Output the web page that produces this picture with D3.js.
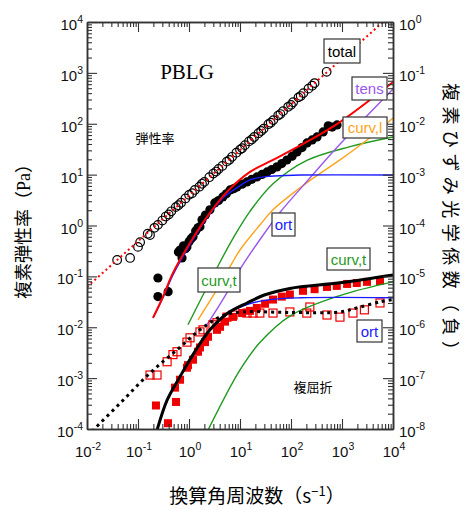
<!DOCTYPE html>
<html>
<head>
<meta charset="utf-8">
<script src="https://cdn.jsdelivr.net/npm/d3@7"></script>
<style>
body { margin: 0; background: #fff; }
</style>
</head>
<body>
<div id="chart"></div>
<script>
// ---- data (angular frequency s^-1, modulus Pa / strain-optical coeff) ----
const totalModulus = [
  [0.039,0.21],[0.07,0.23],[0.1,0.38],[0.11,0.47],[0.155,0.69],[0.172,0.65],[0.21,0.9],
  [0.246,1.03],[0.3,1.25],[0.35,1.5],[0.4,1.65],[0.45,1.9],[0.55,2.3],[0.62,2.5],[0.7,2.8],
  [0.85,3.4],[1.0,4.0],[1.15,4.3],[1.3,5.0],[1.6,5.8],[1.8,6.6],[2.0,7.2],[2.5,8.9],[3.0,10.5],
  [3.4,11.5],[3.8,12.9],[4.5,14.8],[5.5,18],[6.2,19.5],[7,22.4],[8.5,27],[10,31],[11,33],
  [12.5,38],[15,45],[17,49],[19,55],[23,65],[26,72],[29,80],[36,98],[40,105],[45,118],
  [56,145],[62,155],[70,177],[88,215],[100,235],[110,265],[140,330],[155,350],[175,400],
  [220,490],[260,560],[290,630],[500,1050]
];
const storageModulus = [
  [0.246,0.093],[0.246,0.04],[0.39,0.05],[0.62,0.30],[0.667,0.33],[0.73,0.23],[0.78,0.40],
  [0.85,0.35],[0.91,0.38],[1.0,0.48],[1.1,0.55],[1.2,0.6],[1.35,0.78],[1.5,0.9],[1.64,0.95],
  [1.8,1.29],[2.1,1.6],[2.57,2.03],[3.2,2.78],[3.8,3.1],[4.6,3.65],[5.4,4.2],[6.4,5.0],
  [7.5,5.3],[8.7,5.7],[11,6.5],[13.7,7.2],[17,8.1],[21.5,9.0],[27,10.1],[34,11.3],[42,12.6],
  [53,14.2],[66,16.5],[83,19.4],[105,23],[131,28],[165,34],[206,42],[260,48],[324,55],
  [427,69],[537,91],[640,86],[800,95]
];
const totalFit = [[0.01,0.062],[10000,15000]];
const storageFit = [
  [0.197,0.0153],[0.309,0.0398],[0.485,0.117],[1.197,0.57],[2.25,1.48],[5.56,4.57],
  [15.7,11.3],[44.4,19.5],[204,44],[912,108],[10000,660]
];
const ortUpper = [
  [0.197,0.0153],[0.309,0.038],[0.485,0.107],[1.197,0.525],[2.25,1.41],[4.64,3.47],
  [8.7,5.5],[15.7,7.9],[38.9,9.3],[151,9.8],[10000,9.8]
];
const curvTUpper = [
  [0.955,0.0112],[3.55,0.148],[7.3,0.56],[15.7,1.9],[44.4,6.6],[204,19],[1435,35.5],[10000,55]
];
const curvLUpper = [
  [1.5,0.014],[3.24,0.048],[6.37,0.155],[10,0.33],[24.5,1.02],[44.4,2.04],[204,6.9],
  [912,19.5],[3090,48],[10000,129]
];
const tensUpper = [
  [2.25,0.0112],[5.0,0.04],[10,0.138],[24.5,0.525],[60,1.78],[257,9.5],[794,34],[10000,480]
];
// birefringence (right axis)
const biref1 = [
  [0.225,2.9e-8],[0.387,1.3e-8],[0.556,3.4e-8],[0.531,6.5e-8],[0.667,9.3e-8],[0.912,1.6e-7],
  [0.955,1.8e-7],[1.197,2.3e-7],[1.5,3.3e-7],[1.64,4.0e-7],[2.06,5.1e-7],[2.36,6.5e-7],
  [3.54,8.9e-7],[4.06,1.02e-6],[5.08,1.29e-6],[7.3,1.6e-6],[11,1.9e-6],[15.7,2.1e-6],
  [21.4,2.4e-6],[31,2.9e-6],[44.4,3.5e-6],[66,4.0e-6],[95,4.4e-6],[172,5.2e-6],[290,5.6e-6],
  [508,6.2e-6],[790,6.5e-6],[1260,7.1e-6],[1950,7.4e-6],[3090,7.8e-6],[5560,8.1e-6]
];
const biref2 = [
  [0.172,1.15e-7],[0.236,1.15e-7],[0.372,2.1e-7],[0.485,2.9e-7],[0.582,3.3e-7],[0.912,5.1e-7],
  [1.047,6.2e-7],[1.64,8.1e-7],[1.88,8.9e-7],[2.95,1.12e-6],[3.54,1.23e-6],[5.56,1.58e-6],
  [7.3,1.74e-6],[13.7,1.9e-6],[18,1.9e-6],[24.5,1.9e-6],[44.4,1.9e-6],[95,2.0e-6],[204,1.9e-6],
  [234,2.5e-6],[508,1.74e-6],[912,1.58e-6],[1640,1.9e-6],[2750,2.2e-6],[5560,3.0e-6]
];
const birefFit1 = [
  [0.2,5e-9],[0.236,9.5e-9],[0.372,3.7e-8],[0.667,1.07e-7],[1.197,2.9e-7],[2.57,8.9e-7],
  [5.56,1.85e-6],[13.7,3.0e-6],[30,4.3e-6],[95,5.8e-6],[912,7.5e-6],[10000,1.07e-5]
];
const birefFit2 = [
  [0.01,7.2e-9],[0.0444,3.2e-8],[0.172,1.26e-7],[0.582,3.6e-7],[1.64,8.9e-7],[4.64,1.7e-6],
  [11.5,2.0e-6],[95,1.95e-6],[912,2.0e-6],[1950,2.4e-6],[5560,3.16e-6],[10000,3.5e-6]
];
const ortLower = [
  [1.197,2.9e-7],[2.57,8.7e-7],[5.56,1.8e-6],[13.7,2.8e-6],[38.9,3.5e-6],[158,3.8e-6],[10000,3.8e-6]
];
const curvTLower = [
  [2.36,9.5e-9],[10,1.45e-7],[24.5,5.0e-7],[95,1.66e-6],[912,4.2e-6],[10000,7.8e-6]
];
const xExps = [-2,-1,0,1,2,3,4];
const yLeftExps = [-4,-3,-2,-1,0,1,2,3,4];
const yRightExps = [-8,-7,-6,-5,-4,-3,-2,-1,0];

// ---- layout ----
const W = 467, H = 509;
const L = 87, R = 393, T = 22, B = 429;
const RED = "#ff0000", GREEN = "#1f9a1f", ORANGE = "#ffa31a", PURPLE = "#9a55ee", BLUE = "#1a1aff";
const cjk = "'Noto Sans CJK JP', sans-serif";
const sans = "'Liberation Sans', Arial, sans-serif";

const svg = d3.select("#chart").append("svg")
  .attr("width", W).attr("height", H)
  .style("font-family", sans);

const x = d3.scaleLog().domain([1e-2, 1e4]).range([L, R]);
const yL = d3.scaleLog().domain([1e-4, 1e4]).range([B, T]);
const yR = d3.scaleLog().domain([1e-8, 1e0]).range([B, T]);

svg.append("clipPath").attr("id", "clip")
  .append("rect").attr("x", L).attr("y", T).attr("width", R - L).attr("height", B - T);
const plot = svg.append("g").attr("clip-path", "url(#clip)");

// ---- axes (ticks inward on all four sides) ----
function minors(exps) {
  const out = [];
  exps.slice(0, -1).forEach(e => { for (let k = 2; k <= 9; k++) out.push(k * Math.pow(10, e)); });
  return out;
}
const pow = e => Math.pow(10, e);

function drawAxis(axisFn, scale, exps, transform) {
  svg.append("g").attr("transform", transform)
    .call(axisFn(scale).tickValues(minors(exps)).tickSize(-5).tickSizeOuter(0).tickFormat(""));
  svg.append("g").attr("transform", transform)
    .call(axisFn(scale).tickValues(exps.map(pow)).tickSize(-10).tickSizeOuter(0).tickFormat(""));
}
drawAxis(d3.axisBottom, x, xExps, `translate(0,${B})`);
drawAxis(d3.axisTop, x, xExps, `translate(0,${T})`);
drawAxis(d3.axisLeft, yL, yLeftExps, `translate(${L},0)`);
drawAxis(d3.axisRight, yR, yRightExps, `translate(${R},0)`);
svg.selectAll(".domain").attr("stroke", "#333").attr("stroke-width", 1.5);
svg.selectAll(".tick line").attr("stroke", "#333").attr("stroke-width", 1.1);

function powLabel(px, py, e, anchor) {
  const t = svg.append("text").attr("x", px).attr("y", py)
    .attr("text-anchor", anchor).attr("font-size", 15).attr("fill", "#111");
  t.append("tspan").text("10");
  t.append("tspan").attr("dy", -7).attr("font-size", 10.5).text(e);
}
xExps.forEach(e => powLabel(x(pow(e)) + 1, B + 28, e, "middle"));
yLeftExps.forEach(e => powLabel(L - 4, yL(pow(e)) + 8, e, "end"));
yRightExps.forEach(e => powLabel(R + 6, yR(pow(e)) + 8, e, "start"));

// ---- marks ----
const smooth = d3.curveCatmullRom.alpha(0.5);
const lineL = d3.line().x(d => x(d[0])).y(d => yL(d[1])).curve(smooth);
const lineR = d3.line().x(d => x(d[0])).y(d => yR(d[1])).curve(smooth);

// upper: moduli
plot.selectAll(".oc").data(totalModulus).join("circle")
  .attr("cx", d => x(d[0])).attr("cy", d => yL(d[1])).attr("r", 4.3)
  .attr("fill", "none").attr("stroke", "#000").attr("stroke-width", 1.2);
plot.selectAll(".fc").data(storageModulus).join("circle")
  .attr("cx", d => x(d[0])).attr("cy", d => yL(d[1])).attr("r", 4.6)
  .attr("fill", "#000");

plot.append("path").datum(totalFit).attr("d", lineL).attr("fill", "none")
  .attr("stroke", RED).attr("stroke-width", 2).attr("stroke-dasharray", "2,3");
[[curvTUpper, GREEN], [curvLUpper, ORANGE], [tensUpper, PURPLE], [ortUpper, BLUE]].forEach(([d, c]) =>
  plot.append("path").datum(d).attr("d", lineL).attr("fill", "none")
    .attr("stroke", c).attr("stroke-width", 1.4));
plot.append("path").datum(storageFit).attr("d", lineL).attr("fill", "none")
  .attr("stroke", RED).attr("stroke-width", 2);

// lower: birefringence
plot.selectAll(".fs").data(biref1).join("rect")
  .attr("x", d => x(d[0]) - 4).attr("y", d => yR(d[1]) - 4).attr("width", 8).attr("height", 8)
  .attr("fill", "#ee0000");
plot.selectAll(".os").data(biref2).join("rect")
  .attr("x", d => x(d[0]) - 4).attr("y", d => yR(d[1]) - 4).attr("width", 8).attr("height", 8)
  .attr("fill", "none").attr("stroke", "#ee0000").attr("stroke-width", 1.2);

plot.append("path").datum(curvTLower).attr("d", lineR).attr("fill", "none")
  .attr("stroke", GREEN).attr("stroke-width", 1.4);
plot.append("path").datum(ortLower).attr("d", lineR).attr("fill", "none")
  .attr("stroke", BLUE).attr("stroke-width", 1.4);
plot.append("path").datum(birefFit2).attr("d", lineR).attr("fill", "none")
  .attr("stroke", "#000").attr("stroke-width", 3).attr("stroke-dasharray", "3,4");
plot.append("path").datum(birefFit1).attr("d", lineR).attr("fill", "none")
  .attr("stroke", "#000").attr("stroke-width", 3);

// ---- boxed labels ----
function boxLabel(cx, cy, w, h, text, color) {
  svg.append("rect").attr("x", cx - w / 2).attr("y", cy - h / 2).attr("width", w).attr("height", h)
    .attr("fill", "#fff").attr("stroke", "#333").attr("stroke-width", 1.2);
  svg.append("text").attr("x", cx).attr("y", cy + 5.5).attr("text-anchor", "middle")
    .attr("font-size", 15).attr("fill", color).text(text);
}
boxLabel(342, 51, 36, 24, "total", "#000");
boxLabel(369.5, 88.5, 35, 23, "tens", PURPLE);
boxLabel(365, 127.5, 44, 21, "curv,l", ORANGE);
boxLabel(283.5, 224.5, 23, 23, "ort", BLUE);
boxLabel(219, 280, 42, 24, "curv,t", GREEN);
boxLabel(348.5, 259, 43, 22, "curv,t", GREEN);
boxLabel(369.5, 331, 25, 22, "ort", BLUE);

// ---- text ----
svg.append("text").attr("x", 187).attr("y", 79).attr("text-anchor", "middle")
  .attr("font-family", "'Liberation Serif', 'Times New Roman', serif").attr("font-size", 21)
  .text("PBLG");
svg.append("text").attr("x", 155).attr("y", 143).attr("text-anchor", "middle")
  .attr("font-family", cjk).attr("font-size", 13).text("弾性率");
svg.append("text").attr("x", 313).attr("y", 392).attr("text-anchor", "middle")
  .attr("font-family", cjk).attr("font-size", 13).text("複屈折");

const xt = svg.append("text").attr("x", 257).attr("y", 503).attr("text-anchor", "middle")
  .attr("font-family", cjk).attr("font-size", 19);
xt.append("tspan").text("換算角周波数（s");
xt.append("tspan").attr("dy", -7).attr("font-size", 13).text("−1");
xt.append("tspan").attr("dy", 7).text("）");

const yt = svg.append("text").attr("transform", "translate(30,227) rotate(-90)").attr("text-anchor", "middle")
  .attr("font-family", cjk).attr("font-size", 18);
yt.append("tspan").text("複素弾性率（");
yt.append("tspan").attr("font-family", "'Liberation Serif', serif").text("Pa");
yt.append("tspan").text("）");
svg.append("text").attr("transform", "translate(444,221) rotate(90)").attr("text-anchor", "middle")
  .attr("font-family", cjk).attr("font-size", 18)
  .attr("textLength", 276).attr("lengthAdjust", "spacing")
  .text("複素ひずみ光学係数（負）");
</script>
</body>
</html>
